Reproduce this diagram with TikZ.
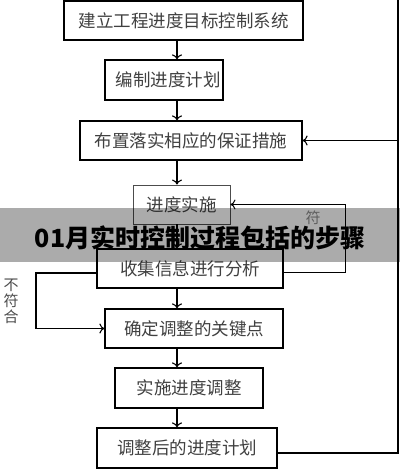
\documentclass[tikz,border=0pt]{standalone}
\usepackage{fontspec}
\newfontfamily\cjk{Noto Sans CJK SC}
\usetikzlibrary{arrows.meta}
\tikzset{
  stepbox/.style={draw, line width=1.2pt, minimum height=39pt, inner sep=0pt,
    font=\cjk\fontsize{17.5}{19}\selectfont, text=black!75},
  flow/.style={-{To[length=5pt,width=10pt]}, line width=1.1pt},
  sidenote/.style={font=\cjk\fontsize{15}{17}\selectfont, align=center, inner sep=0pt},
}
\begin{document}
\begin{tikzpicture}[x=1pt,y=-1pt]
\useasboundingbox (0,0) rectangle (400,470);
\node[stepbox, minimum width=239pt] (goal) at (183.5,20.5) {建立工程进度目标控制系统};
\node[stepbox, minimum width=118pt, minimum height=40pt] (plan) at (164,80) {\hspace{8pt}编制进度计划};
\node[stepbox, minimum width=222pt] (secure) at (191,140.5) {布置落实相应的保证措施};
\node[stepbox, minimum width=97pt, draw=black!70, line width=0.9pt] (run) at (181.5,204.5) {进度实施};
\node[stepbox, minimum width=186pt] (collect) at (190,268.5) {收集信息进行分析};
\node[stepbox, minimum width=178pt] (keypt) at (194,328.5) {确定调整的关键点};
\node[stepbox, minimum width=148pt, minimum height=40pt] (adjust) at (189,388) {实施进度调整};
\node[stepbox, minimum width=180pt, minimum height=40pt] (newplan) at (187,448) {调整后的进度计划};
% main line of arrows
\coordinate (spine) at (177,0);
\draw[flow] (goal.south -| spine) -- (plan.north -| spine);
\draw[flow] (plan.south -| spine) -- (secure.north -| spine);
\draw[flow] (secure.south -| spine) -- (run.north -| spine);
\draw[flow] (run.south -| spine) -- (collect.north -| spine);
\draw[flow] (collect.south -| spine) -- (keypt.north -| spine);
\draw[flow] (keypt.south -| spine) -- (adjust.north -| spine);
\draw[flow] (adjust.south -| spine) -- (newplan.north -| spine);
% loops back
\coordinate (bigloop) at (398,0);
\coordinate (okloop) at (345,204.5);
\coordinate (noloop) at (36,328.5);
\draw[flow] ([yshift=-5pt]newplan.east) -| (bigloop) |- (secure.east);
\draw[flow, line width=1pt] ([yshift=-3.5pt]collect.east) -| (okloop) -- (run.east);
\draw[flow] ([yshift=-4.5pt]collect.west) -| (noloop) -- (keypt.west);
\node[sidenote, text=black!70] (notok) at (11,301) {不\\[-1pt]符\\[-1pt]合};
\node[sidenote, text=black!45] (ok) at (313,218) {符};
% title band
\fill[black, opacity=0.33] (0,208) rectangle (400,262);
\node[font=\cjk\bfseries\fontsize{25}{28}\selectfont] (title) at (200,238) {01月实时控制过程包括的步骤};
\end{tikzpicture}
\end{document}
